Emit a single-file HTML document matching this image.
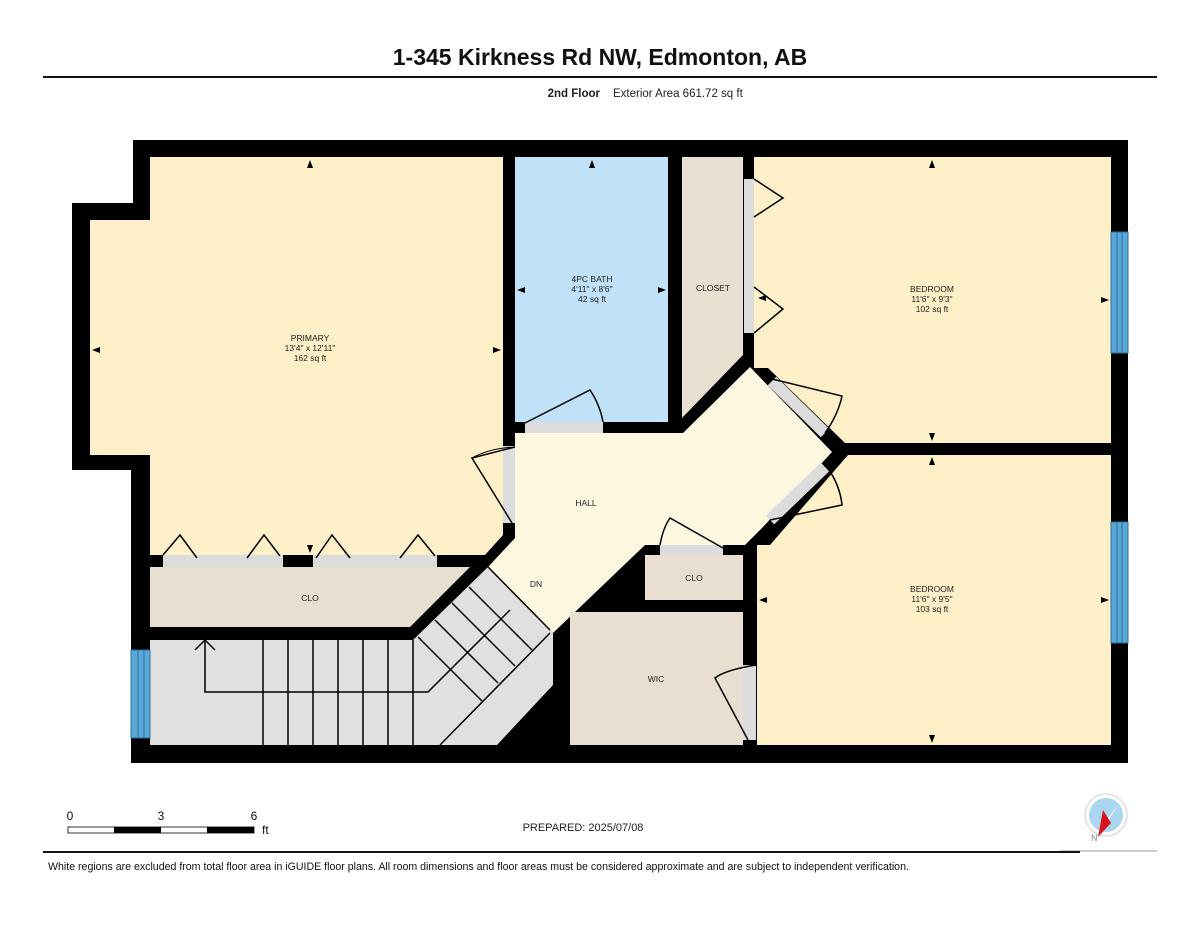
<!DOCTYPE html>
<html><head><meta charset="utf-8"><style>
html,body{margin:0;padding:0;background:#fff;}
body{width:1200px;height:927px;overflow:hidden;font-family:"Liberation Sans",Arial,sans-serif;}
svg{display:block}
text{font-family:"Liberation Sans",Arial,sans-serif;}
</style></head><body>
<svg width="1200" height="927" viewBox="0 0 1200 927" xmlns="http://www.w3.org/2000/svg">
<rect width="1200" height="927" fill="#fff"/>
<text x="600" y="65" font-size="23" font-weight="bold" text-anchor="middle" fill="#111">1-345 Kirkness Rd NW, Edmonton, AB</text>
<line x1="43" y1="77" x2="1157" y2="77" stroke="#111" stroke-width="2"/>
<text x="600" y="97" font-size="11.5" font-weight="bold" text-anchor="end" fill="#222">2nd Floor</text>
<text x="613" y="97" font-size="11.5" fill="#222">Exterior Area 661.72 sq ft</text>

<polygon points="133,140 1128,140 1128,763 131,763 131,470 72,470 72,203 133,203" fill="#000"/>

<polygon points="150,157 503,157 503,535 485,555 150,555 150,455 90,455 90,220 150,220" fill="#fdf0c8"/>
<rect x="515" y="157" width="153" height="265" fill="#bfe2f8"/>
<polygon points="682,157 743,157 743,355 682,418" fill="#e8dfd0"/>
<polygon points="754,157 1111,157 1111,443 845,443 768,368 754,368" fill="#fdf0c8"/>
<polygon points="848,455 1111,455 1111,745 757,745 757,545 770,545" fill="#fdf0c8"/>
<polygon points="150,567 470,567 410,627 150,627" fill="#e8dfd0"/>
<polygon points="150,640 413,640 488,567 553,633 553,685 497,745 150,745" fill="#e0e0e0"/>
<polygon points="515,433 683,433 750,367 832,452 763,527 745,545 645,545 553,633 488,567 515,538" fill="#fef7e0"/>
<rect x="645" y="555" width="98" height="45" fill="#e8dfd0"/>
<rect x="570" y="612" width="173" height="133" fill="#e8dfd0"/>

<g fill="#5aa8d8" stroke="#2c6f9a" stroke-width="1">
<rect x="1111" y="232" width="17" height="121"/>
<rect x="1111" y="522" width="17" height="121"/>
<rect x="131" y="650" width="19" height="88"/>
</g>
<g stroke="#2c6f9a" stroke-width="1">
<line x1="1117" y1="232" x2="1117" y2="353"/><line x1="1122" y1="232" x2="1122" y2="353"/>
<line x1="1117" y1="522" x2="1117" y2="643"/><line x1="1122" y1="522" x2="1122" y2="643"/>
<line x1="138" y1="650" x2="138" y2="738"/><line x1="144" y1="650" x2="144" y2="738"/>
</g>

<g fill="#dcdcdc">
<rect x="525" y="422" width="78" height="11"/>
<rect x="503" y="446" width="12" height="77"/>
<rect x="744" y="179" width="10" height="154"/>
<rect x="660" y="545" width="63" height="10"/>
<rect x="743" y="665" width="13" height="75"/>
<rect x="163" y="555" width="120" height="12"/>
<rect x="313" y="555" width="124" height="12"/>
</g>
<g stroke="#dcdcdc" stroke-width="12">
<line x1="772" y1="381" x2="825" y2="433"/>
<line x1="825" y1="467" x2="770" y2="520"/>
</g>

<g stroke="#000" stroke-width="1.5" fill="none">
<path d="M525,423 L590,390 Q600,405 603,422"/>
<path d="M515,447 L472,458 L512,523"/>
<path d="M472,458 Q490,448 515,447" stroke-width="1"/>
<path d="M754,179 L783,198 L754,217"/>
<path d="M754,287 L783,309 L754,333"/>
<path d="M772,379 L842,396 Q838,415 825,433"/>
<path d="M770,520 L842,505 Q840,485 827,467"/>
<path d="M660,545 Q663,528 670,518 L723,548"/>
<path d="M756,665 Q725,670 715,678 L748,740"/>
<path d="M163,555 L180,535 L197,558"/>
<path d="M247,558 L264,535 L280,556"/>
<path d="M316,558 L332,535 L350,558"/>
<path d="M400,558 L418,535 L435,556"/>
</g>

<g stroke="#000" stroke-width="1.5" fill="none">
<line x1="263" y1="640" x2="263" y2="745"/>
<line x1="288" y1="640" x2="288" y2="745"/>
<line x1="313" y1="640" x2="313" y2="745"/>
<line x1="338" y1="640" x2="338" y2="745"/>
<line x1="363" y1="640" x2="363" y2="745"/>
<line x1="388" y1="640" x2="388" y2="745"/>
<line x1="413" y1="640" x2="413" y2="745"/>
<polyline points="205,640 205,692 428,692 510,610"/>
<polyline points="195,650 205,640 215,650"/>
<line x1="418" y1="637" x2="482" y2="701"/>
<line x1="435" y1="620" x2="498" y2="683"/>
<line x1="452" y1="603" x2="515" y2="666"/>
<line x1="469" y1="587" x2="532" y2="650"/>
<line x1="488" y1="567" x2="550" y2="630"/>
<line x1="550" y1="633" x2="440" y2="745"/>
</g>

<g font-size="8.5" fill="#222" text-anchor="middle">
<text x="310" y="341">PRIMARY</text><text x="310" y="351">13'4" x 12'11"</text><text x="310" y="361">162 sq ft</text>
<text x="592" y="282">4PC BATH</text><text x="592" y="292">4'11" x 8'6"</text><text x="592" y="302">42 sq ft</text>
<text x="713" y="291">CLOSET</text>
<text x="932" y="292">BEDROOM</text><text x="932" y="302">11'6" x 9'3"</text><text x="932" y="312">102 sq ft</text>
<text x="932" y="592">BEDROOM</text><text x="932" y="602">11'6" x 9'5"</text><text x="932" y="612">103 sq ft</text>
<text x="586" y="506">HALL</text>
<text x="536" y="587">DN</text>
<text x="694" y="581">CLO</text>
<text x="310" y="601">CLO</text>
<text x="656" y="682">WIC</text>
</g>

<g fill="#000">
<polygon points="310,160 307,168 313,168"/>
<polygon points="310,553 307,545 313,545"/>
<polygon points="92,350 100,347 100,353"/>
<polygon points="501,350 493,347 493,353"/>
<polygon points="592,160 589,168 595,168"/>
<polygon points="517,290 525,287 525,293"/>
<polygon points="666,290 658,287 658,293"/>
<polygon points="932,160 929,168 935,168"/>
<polygon points="932,441 929,433 935,433"/>
<polygon points="1109,300 1101,297 1101,303"/>
<polygon points="932,457 929,465 935,465"/>
<polygon points="932,743 929,735 935,735"/>
<polygon points="759,600 767,597 767,603"/>
<polygon points="1109,600 1101,597 1101,603"/>
<polygon points="758,298 766,295 766,301"/>
</g>

<text x="70" y="820" font-size="12" text-anchor="middle" fill="#111">0</text>
<text x="161" y="820" font-size="12" text-anchor="middle" fill="#111">3</text>
<text x="254" y="820" font-size="12" text-anchor="middle" fill="#111">6</text>
<text x="262" y="834" font-size="12" fill="#111">ft</text>
<rect x="68" y="827" width="186" height="6" fill="#fff" stroke="#333" stroke-width="1"/>
<rect x="114" y="827" width="47" height="6" fill="#000"/>
<rect x="207" y="827" width="47" height="6" fill="#000"/>
<text x="583" y="831" font-size="11" text-anchor="middle" fill="#222">PREPARED: 2025/07/08</text>

<circle cx="1106" cy="815" r="21" fill="#fff" stroke="#e4e4e4" stroke-width="2"/>
<circle cx="1106" cy="815" r="17" fill="#aad6f0"/>
<polygon points="1118,805 1098,837 1108,818" fill="#fff"/>
<polygon points="1098,837 1103,810 1111,823" fill="#d8141c"/>
<text x="1091" y="841" font-size="9" fill="#888">N</text>
<line x1="1060" y1="851" x2="1157" y2="851" stroke="#ccc" stroke-width="2"/>

<line x1="43" y1="852" x2="1080" y2="852" stroke="#111" stroke-width="2"/>
<text x="48" y="870" font-size="10.6" fill="#111">White regions are excluded from total floor area in iGUIDE floor plans. All room dimensions and floor areas must be considered approximate and are subject to independent verification.</text>
</svg>
</body></html>
